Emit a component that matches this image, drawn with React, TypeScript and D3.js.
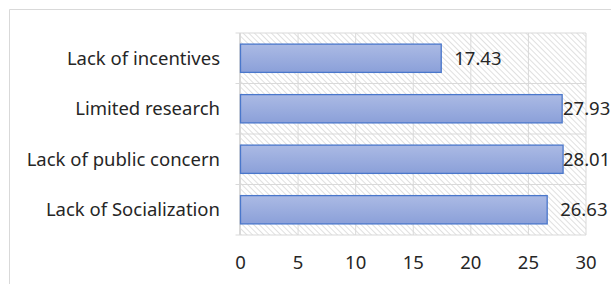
import React from "react";
import * as d3 from "d3";

const categories = ["Lack of incentives", "Limited research", "Lack of public concern", "Lack of Socialization"];
const values = [17.43, 27.93, 28.01, 26.63];
const ticks = [0, 5, 10, 15, 20, 25, 30];

export default function App() {
  const width = 611;
  const height = 284;
  const left = 240.5;
  const right = 586;
  const top = 33;
  const bottom = 235;

  const x = d3.scaleLinear().domain([0, 30]).range([left, right]);
  const y = d3.scaleBand().domain(categories).range([top, bottom]).paddingInner(0.44).paddingOuter(0.22);
  const band = d3.scaleBand().domain(categories).range([top, bottom]);
  const font = "'Noto Sans', sans-serif";
  const fs = 18.5;

  return (
    <svg width={width} height={height} style={{ position: "absolute", left: 0, top: 0, background: "#fff" }}>
      <defs>
        <pattern id="hatch" width="4" height="4" patternUnits="userSpaceOnUse" patternTransform="rotate(-45)">
          <rect width="4" height="4" fill="#fff" />
          <line x1="0" y1="0" x2="0" y2="4" stroke="#d6d6d6" strokeWidth="1.5" />
        </pattern>
        <linearGradient id="barGrad" x1="0" y1="0" x2="0" y2="1">
          <stop offset="0" stopColor="#abbae4" />
          <stop offset="1" stopColor="#8ba0d9" />
        </linearGradient>
      </defs>

      {/* chart area border */}
      <path d={`M9.5,${height} V9.5 H${width}`} fill="none" stroke="#d9d9d9" />

      {/* plot area */}
      <rect x={left} y={top} width={right - left} height={bottom - top} fill="url(#hatch)" />

      {/* vertical gridlines */}
      {ticks.map(t => (
        <line key={t} x1={x(t)} x2={x(t)} y1={top} y2={bottom} stroke="#d9d9d9" strokeWidth={1} />
      ))}
      {/* horizontal boundaries */}
      {categories.map(c => (
        <line key={c} x1={left - 5} x2={right} y1={band(c)!} y2={band(c)!} stroke="#d9d9d9" />
      ))}
      <line x1={left - 5} x2={right} y1={bottom} y2={bottom} stroke="#d9d9d9" />
      <line x1={left - 1} x2={left - 1} y1={top} y2={bottom} stroke="#d9d9d9" />

      {/* bars */}
      {categories.map((c, i) => (
        <rect
          key={c}
          x={x(0)}
          y={y(c)!}
          width={x(values[i]) - x(0)}
          height={y.bandwidth()}
          fill="url(#barGrad)"
          stroke="#4a77cb"
          strokeWidth={1.3}
        />
      ))}

      {/* value labels */}
      {categories.map((c, i) => (
        <text
          key={c}
          x={Math.min(x(values[i]) + 13, right - 23)}
          y={y(c)! + y.bandwidth() / 2}
          dy="0.35em"
          fontFamily={font}
          fontSize={fs}
          fill="#262626"
        >
          {values[i].toFixed(2)}
        </text>
      ))}

      {/* category labels */}
      {categories.map(c => (
        <text
          key={c}
          x={220}
          y={band(c)! + band.bandwidth() / 2}
          dy="0.35em"
          textAnchor="end"
          fontFamily={font}
          fontSize={fs}
          fill="#262626"
        >
          {c}
        </text>
      ))}

      {/* x tick labels */}
      {ticks.map(t => (
        <text
          key={t}
          x={x(t)}
          y={263}
          dy="0.35em"
          textAnchor="middle"
          fontFamily={font}
          fontSize={fs}
          fill="#262626"
        >
          {t}
        </text>
      ))}
    </svg>
  );
}
